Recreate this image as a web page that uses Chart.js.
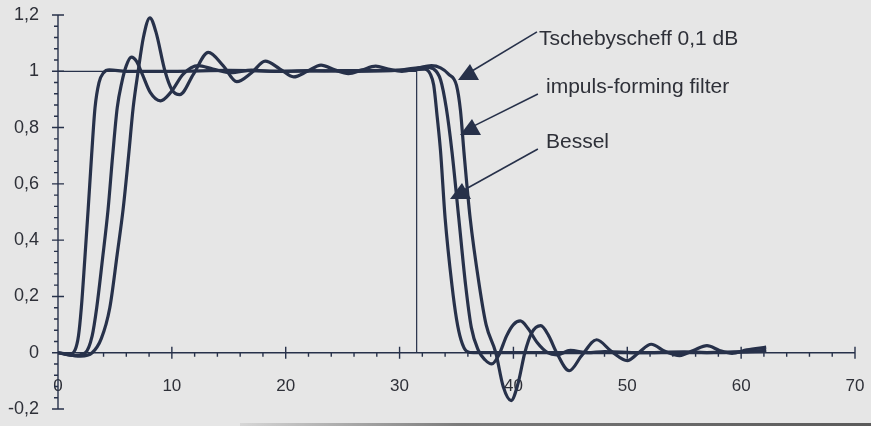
<!DOCTYPE html>
<html>
<head>
<meta charset="utf-8">
<script src="https://cdn.jsdelivr.net/npm/chart.js@4/dist/chart.umd.min.js"></script>
<style>
  html, body { margin: 0; padding: 0; background: #e6e6e6; }
  #wrap { position: relative; width: 871px; height: 426px; }
  #scanEdge {
    position: absolute; left: 240px; right: 0; bottom: 0; height: 3px;
    background: linear-gradient(to right, #d6d6d6, #7a7a7a 35%, #5a5a5a);
  }
</style>
</head>
<body>
<div id="wrap">
  <canvas id="chart" width="871" height="426"></canvas>
  <div id="scanEdge"></div>
</div>
<script>
// tick labels (german decimal comma)
const xTicks = [0, 10, 20, 30, 40, 50, 60, 70];
const yTicks = [-0.2, 0, 0.2, 0.4, 0.6, 0.8, 1, 1.2];
const yLabels = ["-0,2", "0", "0,2", "0,4", "0,6", "0,8", "1", "1,2"];

const seriesNames = ["Tschebyscheff 0,1 dB", "impuls-forming filter", "Bessel"];

// ideal rectangular pulse (thin line)
const idealPulse = [[0, 1], [31.5, 1], [31.5, 0]];

// step responses, [time, amplitude]
const bessel = [
  [0, 0], [1, -0.005], [1.5, 0.01], [1.8, 0.06], [2.05, 0.16], [2.35, 0.33], [2.65, 0.51],
  [2.95, 0.7], [3.25, 0.87], [3.6, 0.96], [4.0, 0.995], [4.5, 1.005], [6, 1.0], [10, 1.0],
  [15, 1.003], [20, 1.0], [25, 1.002], [30, 1.003], [32.2, 1.008], [32.7, 0.99], [33.0, 0.95],
  [33.3, 0.84], [33.6, 0.715], [34.0, 0.478], [34.6, 0.24], [35.0, 0.12], [35.4, 0.045],
  [35.9, 0.005], [36.5, 0], [40, 0], [45, 0], [50, 0], [55, 0], [62.2, 0.005]
];

const impulsForming = [
  [0, 0], [1.5, -0.01], [2.4, 0.0], [3.0, 0.06], [3.4, 0.16], [3.9, 0.33], [4.4, 0.51],
  [4.8, 0.7], [5.2, 0.87], [5.6, 0.96], [6.0, 1.02], [6.45, 1.05], [6.9, 1.035], [7.4, 0.99],
  [8.1, 0.925], [9.0, 0.895], [9.9, 0.925], [11.0, 0.99], [12.3, 1.02], [13.6, 1.008],
  [15.2, 0.995], [17, 1.004], [19, 1.0], [22, 1.002], [26, 1.0], [30, 1.004], [32.3, 1.015],
  [33.0, 1.008], [33.6, 0.97], [34.1, 0.87], [34.6, 0.715], [35.2, 0.478], [35.8, 0.24],
  [36.3, 0.09], [36.9, 0.01], [37.5, -0.025], [38.1, -0.04], [38.7, -0.01], [39.4, 0.06],
  [40.0, 0.1], [40.6, 0.113], [41.3, 0.085], [42.1, 0.035], [43.0, 0.0], [43.8, -0.008],
  [45.0, 0.008], [46.5, 0.0], [48, 0.004], [51, 0], [55, 0.003], [58, 0], [62.2, 0.008]
];

const tschebyscheff = [
  [0, 0], [2, -0.012], [3, 0.0], [3.8, 0.05], [4.55, 0.16], [5.2, 0.35], [5.72, 0.51],
  [6.2, 0.7], [6.6, 0.87], [7.04, 1.0], [7.5, 1.12], [8.07, 1.19], [8.6, 1.14], [9.4, 1.0],
  [10.0, 0.935], [10.7, 0.917], [11.9, 0.99], [13.2, 1.067], [14.5, 1.02], [15.7, 0.963],
  [17.0, 0.995], [18.2, 1.036], [19.5, 1.008], [20.7, 0.98], [21.9, 1.0], [23.1, 1.022],
  [24.3, 1.005], [25.5, 0.992], [26.7, 1.005], [27.9, 1.018], [29.0, 1.008], [30.2, 1.0],
  [31.5, 1.01], [32.8, 1.02], [33.6, 1.012], [34.3, 0.99], [35.0, 0.95], [35.35, 0.86],
  [35.65, 0.715], [36.2, 0.478], [37.0, 0.24], [37.6, 0.1], [38.45, 0], [39.1, -0.12],
  [39.8, -0.17], [40.4, -0.11], [41.0, 0.0], [41.6, 0.07], [42.4, 0.096], [43.1, 0.06],
  [43.8, 0.0], [44.9, -0.064], [46.0, -0.01], [47.3, 0.046], [48.6, 0.005], [50.0, -0.028],
  [51.0, 0.0], [52.1, 0.03], [53.3, 0.005], [54.6, -0.01], [55.8, 0.008], [57.0, 0.025],
  [58.1, 0.008], [59.2, -0.002], [60.5, 0.01], [62.2, 0.02]
];

const INK = "#27314a";
const TEXT = "#2e3038";
const FONT = "'Liberation Sans', Arial, sans-serif";

// callouts: text start, line start and arrow tip, in data units
const callouts = [
  { text: seriesNames[0], at: [42.25, 1.093], from: [42.07, 1.14], tip: [35.13, 0.969] },
  { text: seriesNames[1], at: [42.86, 0.924], from: [42.15, 0.919], tip: [35.31, 0.774] },
  { text: seriesNames[2], at: [42.86, 0.726], from: [42.15, 0.724], tip: [34.43, 0.546] }
];

const toPoints = (pts) => pts.map((p) => ({ x: p[0], y: p[1] }));

// axis lines with major and minor ticks, drawn through the chart scales
const axesPlugin = {
  id: "crossAxes",
  beforeDatasetsDraw(chart) {
    const { ctx } = chart;
    const xs = chart.scales.x;
    const ys = chart.scales.y;
    const x0 = xs.getPixelForValue(0);
    const y0 = ys.getPixelForValue(0);
    ctx.save();
    ctx.strokeStyle = INK;
    ctx.lineWidth = 1.4;
    ctx.beginPath();
    ctx.moveTo(x0, ys.getPixelForValue(yTicks[0]));
    ctx.lineTo(x0, ys.getPixelForValue(yTicks[yTicks.length - 1]));
    ctx.moveTo(x0, y0);
    ctx.lineTo(xs.getPixelForValue(xTicks[xTicks.length - 1]), y0);
    yTicks.forEach((v) => {
      const p = ys.getPixelForValue(v);
      ctx.moveTo(x0 - 6, p);
      ctx.lineTo(x0 + 6, p);
    });
    xTicks.forEach((v) => {
      const p = xs.getPixelForValue(v);
      ctx.moveTo(p, y0 - 6);
      ctx.lineTo(p, y0 + 6);
    });
    for (let i = 1; i < 35; i++) {
      if (i % 5 === 0) continue;
      const p = ys.getPixelForValue(-0.2 + i * 0.04);
      ctx.moveTo(x0 - 4, p);
      ctx.lineTo(x0, p);
    }
    for (let i = 1; i < 35; i++) {
      if (i % 5 === 0) continue;
      const p = xs.getPixelForValue(i * 2);
      ctx.moveTo(p, y0);
      ctx.lineTo(p, y0 + 4);
    }
    ctx.stroke();
    ctx.restore();
  }
};

// text labels with arrow lines
const calloutPlugin = {
  id: "callouts",
  afterDatasetsDraw(chart) {
    const { ctx } = chart;
    const xs = chart.scales.x;
    const ys = chart.scales.y;
    ctx.save();
    ctx.fillStyle = TEXT;
    ctx.strokeStyle = INK;
    ctx.font = "21px " + FONT;
    ctx.textBaseline = "alphabetic";
    callouts.forEach((c) => {
      ctx.fillText(c.text, xs.getPixelForValue(c.at[0]), ys.getPixelForValue(c.at[1]));
      const tx = xs.getPixelForValue(c.tip[0]);
      const ty = ys.getPixelForValue(c.tip[1]);
      ctx.lineWidth = 1.6;
      ctx.beginPath();
      ctx.moveTo(xs.getPixelForValue(c.from[0]), ys.getPixelForValue(c.from[1]));
      ctx.lineTo(tx + 14, ty - 9);
      ctx.stroke();
      ctx.fillStyle = INK;
      ctx.beginPath();
      ctx.moveTo(tx, ty);
      ctx.lineTo(tx + 12, ty - 16);
      ctx.lineTo(tx + 21, ty);
      ctx.closePath();
      ctx.fill();
      ctx.fillStyle = TEXT;
    });
    ctx.restore();
  }
};

const curve = (label, pts) => ({
  label: label,
  data: toPoints(pts),
  borderColor: INK,
  borderWidth: 3.2,
  pointRadius: 0,
  fill: false,
  cubicInterpolationMode: "monotone"
});

new Chart(document.getElementById("chart"), {
  type: "line",
  data: {
    datasets: [
      {
        label: "ideal",
        data: toPoints(idealPulse),
        borderColor: INK,
        borderWidth: 1.2,
        pointRadius: 0,
        tension: 0,
        fill: false
      },
      curve(seriesNames[2], bessel),
      curve(seriesNames[1], impulsForming),
      curve(seriesNames[0], tschebyscheff)
    ]
  },
  options: {
    responsive: false,
    animation: false,
    layout: { padding: { left: 0, right: 16, top: 15, bottom: 17 } },
    plugins: { legend: { display: false }, tooltip: { enabled: false } },
    scales: {
      x: {
        type: "linear",
        min: 0,
        max: 70,
        position: { y: 0 },
        afterBuildTicks: (s) => { s.ticks = xTicks.map((v) => ({ value: v })); },
        afterFit: (s) => {
          s.height = 0;
          s.paddingLeft = 0;
          s.paddingRight = 0;
        },
        grid: { display: false, drawTicks: false },
        border: { display: false },
        ticks: {
          padding: 23,
          maxRotation: 0,
          color: TEXT,
          font: { family: FONT, size: 17 },
          callback: (v) => String(v)
        }
      },
      y: {
        type: "linear",
        min: -0.2,
        max: 1.2,
        afterBuildTicks: (s) => { s.ticks = yTicks.map((v) => ({ value: v })); },
        afterFit: (s) => {
          s.width = 58;
          s.paddingTop = 0;
          s.paddingBottom = 0;
        },
        grid: { display: false, drawTicks: false },
        border: { display: false },
        ticks: {
          padding: 19,
          color: TEXT,
          font: { family: FONT, size: 18 },
          callback: (v, i) => yLabels[i]
        }
      }
    }
  },
  plugins: [axesPlugin, calloutPlugin]
});
</script>
</body>
</html>
